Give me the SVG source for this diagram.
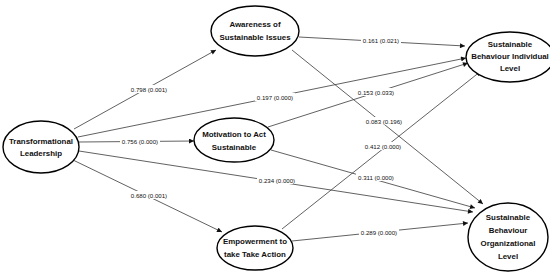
<svg xmlns="http://www.w3.org/2000/svg" width="550" height="275" viewBox="0 0 550 275">
<style>
.node ellipse{fill:#fff;stroke:#000;stroke-width:1.4}
.node text{font-family:"Liberation Sans",Arial,sans-serif;font-weight:bold;font-size:7.9px;fill:#111;text-anchor:middle;dominant-baseline:central}
.edge line{stroke:#444;stroke-width:0.85;marker-end:url(#arr)}
.lbl rect{fill:#fff}
.lbl text{font-family:"Liberation Sans",Arial,sans-serif;font-size:6.1px;fill:#111;text-anchor:middle;dominant-baseline:central}
</style>
<defs>
<marker id="arr" viewBox="0 0 10 10" refX="10" refY="5" markerWidth="6" markerHeight="5" markerUnits="userSpaceOnUse" orient="auto">
<path d="M0,0 L10,5 L0,10 z" fill="#111"/>
</marker>
</defs>
<rect width="550" height="275" fill="#fff"/>
<g id="connectors">
<g class="edge">
<line x1="74" y1="129" x2="216" y2="50"/>
<line x1="78" y1="137" x2="466" y2="58"/>
<line x1="79" y1="142" x2="194" y2="141"/>
<line x1="79" y1="151" x2="473" y2="212"/>
<line x1="73" y1="160" x2="222" y2="232"/>
<line x1="299" y1="37" x2="465" y2="46"/>
<line x1="292" y1="50" x2="483" y2="204"/>
<line x1="268" y1="127" x2="468" y2="63"/>
<line x1="271" y1="150" x2="475" y2="208"/>
<line x1="282" y1="229" x2="481" y2="71"/>
<line x1="292" y1="241" x2="468" y2="223"/>
</g>
<g class="lbl">
<rect x="129" y="85" width="40" height="8"/><text x="149" y="89">0.798 (0.001)</text>
<rect x="255" y="93" width="40" height="8"/><text x="275" y="97">0.197 (0.000)</text>
<rect x="120" y="137" width="40" height="8"/><text x="140" y="141">0.756 (0.000)</text>
<rect x="257" y="176" width="40" height="8"/><text x="277" y="180">0.234 (0.000)</text>
<rect x="129" y="191" width="40" height="8"/><text x="149" y="195">0.680 (0.001)</text>
<rect x="361" y="36" width="40" height="8"/><text x="381" y="40">0.161 (0.021)</text>
<rect x="364" y="117" width="40" height="8"/><text x="384" y="121">0.083 (0.196)</text>
<rect x="356" y="88" width="40" height="8"/><text x="376" y="92">0.153 (0.033)</text>
<rect x="356" y="173" width="40" height="8"/><text x="376" y="177">0.311 (0.000)</text>
<rect x="363" y="142" width="40" height="8"/><text x="383" y="146">0.412 (0.000)</text>
<rect x="359" y="228" width="40" height="8"/><text x="379" y="232">0.289 (0.000)</text>
</g>
</g>
<g id="tl" class="node"><ellipse cx="41" cy="147" rx="38" ry="26"/><text x="41" y="141">Transformational</text><text x="41" y="153">Leadership</text></g>
<g id="aw" class="node"><ellipse cx="255" cy="31" rx="44" ry="25"/><text x="255" y="24">Awareness of</text><text x="255" y="37">Sustainable Issues</text></g>
<g id="mot" class="node"><ellipse cx="234" cy="140" rx="40" ry="22"/><text x="234" y="134">Motivation to Act</text><text x="234" y="147">Sustainable</text></g>
<g id="emp" class="node"><ellipse cx="255" cy="248" rx="38" ry="22"/><text x="255" y="241">Empowerment to</text><text x="255" y="254">take Take Action</text></g>
<g id="sbi" class="node"><ellipse cx="510" cy="57" rx="44" ry="25"/><text x="510" y="44.5">Sustainable</text><text x="510" y="56.5">Behaviour Individual</text><text x="510" y="68.5">Level</text></g>
<g id="sbo" class="node"><ellipse cx="508" cy="237" rx="40" ry="34"/><text x="508" y="217">Sustainable</text><text x="508" y="230">Behaviour</text><text x="508" y="243">Organizational</text><text x="508" y="256">Level</text></g>
</svg>
